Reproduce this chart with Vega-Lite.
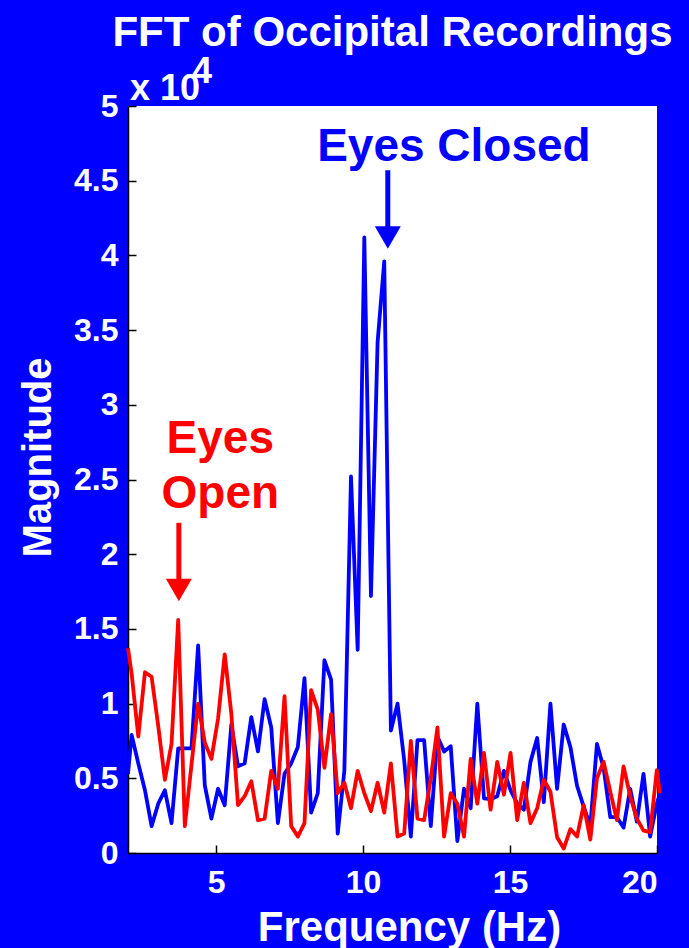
{
  "$schema": "https://vega.github.io/schema/vega-lite/v6.json",
  "width": 529,
  "height": 747,
  "autosize": "none",
  "padding": {"left": 128, "top": 106, "right": 32, "bottom": 95},
  "background": "#0000ff",
  "config": {
    "view": {"fill": "white", "stroke": null},
    "font": "Liberation Sans",
    "axis": {
      "domainColor": "black", "domainWidth": 1.5, "tickColor": "black", "tickWidth": 1.5,
      "tickSize": -8, "labelPadding": 18, "grid": false,
      "labelColor": "white", "labelFont": "Liberation Sans", "labelFontWeight": "bold", "labelFontSize": 32,
      "titleColor": "white", "titleFont": "Liberation Sans", "titleFontWeight": "bold", "titleFontSize": 40
    }
  },
  "title": {
    "text": "FFT of Occipital Recordings", "color": "white", "fontSize": 42, "font": "Liberation Sans",
    "fontWeight": "bold", "anchor": "middle", "frame": "group", "baseline": "alphabetic", "offset": -34
  },
  "datasets": {
    "spectrum": [
      {"f": 2.0, "closed": 0.53, "open": 1.37},
      {"f": 2.124, "closed": 0.79, "open": 1.2},
      {"f": 2.35, "closed": 0.6, "open": 0.78},
      {"f": 2.577, "closed": 0.42, "open": 1.21},
      {"f": 2.803, "closed": 0.18, "open": 1.18},
      {"f": 3.029, "closed": 0.33, "open": 0.85},
      {"f": 3.255, "closed": 0.42, "open": 0.49},
      {"f": 3.481, "closed": 0.2, "open": 0.73},
      {"f": 3.708, "closed": 0.7, "open": 1.56},
      {"f": 3.934, "closed": 0.7, "open": 0.18},
      {"f": 4.16, "closed": 0.7, "open": 0.59},
      {"f": 4.386, "closed": 1.39, "open": 1.0},
      {"f": 4.612, "closed": 0.455, "open": 0.74},
      {"f": 4.838, "closed": 0.23, "open": 0.63},
      {"f": 5.065, "closed": 0.43, "open": 0.9},
      {"f": 5.291, "closed": 0.32, "open": 1.33},
      {"f": 5.517, "closed": 0.86, "open": 0.93},
      {"f": 5.743, "closed": 0.58, "open": 0.32},
      {"f": 5.969, "closed": 0.6, "open": 0.38},
      {"f": 6.196, "closed": 0.91, "open": 0.48},
      {"f": 6.422, "closed": 0.68, "open": 0.22},
      {"f": 6.648, "closed": 1.03, "open": 0.23},
      {"f": 6.874, "closed": 0.84, "open": 0.55},
      {"f": 7.1, "closed": 0.2, "open": 0.43},
      {"f": 7.326, "closed": 0.53, "open": 1.05},
      {"f": 7.553, "closed": 0.6, "open": 0.18},
      {"f": 7.779, "closed": 0.71, "open": 0.11},
      {"f": 8.005, "closed": 1.17, "open": 0.2},
      {"f": 8.231, "closed": 0.27, "open": 1.09},
      {"f": 8.457, "closed": 0.4, "open": 0.96},
      {"f": 8.684, "closed": 1.29, "open": 0.57},
      {"f": 8.91, "closed": 1.16, "open": 0.93},
      {"f": 9.136, "closed": 0.13, "open": 0.4},
      {"f": 9.362, "closed": 0.55, "open": 0.47},
      {"f": 9.588, "closed": 2.52, "open": 0.3},
      {"f": 9.815, "closed": 1.36, "open": 0.55},
      {"f": 10.041, "closed": 4.12, "open": 0.4},
      {"f": 10.267, "closed": 1.72, "open": 0.28},
      {"f": 10.493, "closed": 3.42, "open": 0.47},
      {"f": 10.719, "closed": 3.96, "open": 0.27},
      {"f": 10.945, "closed": 0.82, "open": 0.6},
      {"f": 11.172, "closed": 1.0, "open": 0.11},
      {"f": 11.398, "closed": 0.62, "open": 0.13},
      {"f": 11.624, "closed": 0.11, "open": 0.75},
      {"f": 11.85, "closed": 0.755, "open": 0.23},
      {"f": 12.076, "closed": 0.755, "open": 0.22},
      {"f": 12.303, "closed": 0.18, "open": 0.5},
      {"f": 12.529, "closed": 0.78, "open": 0.84},
      {"f": 12.755, "closed": 0.68, "open": 0.11},
      {"f": 12.981, "closed": 0.715, "open": 0.4},
      {"f": 13.207, "closed": 0.08, "open": 0.33},
      {"f": 13.434, "closed": 0.43, "open": 0.11},
      {"f": 13.66, "closed": 0.3, "open": 0.63},
      {"f": 13.886, "closed": 1.0, "open": 0.33},
      {"f": 14.112, "closed": 0.365, "open": 0.67},
      {"f": 14.338, "closed": 0.36, "open": 0.29},
      {"f": 14.564, "closed": 0.38, "open": 0.61},
      {"f": 14.791, "closed": 0.55, "open": 0.39},
      {"f": 15.017, "closed": 0.42, "open": 0.67},
      {"f": 15.243, "closed": 0.33, "open": 0.22},
      {"f": 15.469, "closed": 0.29, "open": 0.47},
      {"f": 15.695, "closed": 0.61, "open": 0.2},
      {"f": 15.922, "closed": 0.77, "open": 0.3},
      {"f": 16.148, "closed": 0.34, "open": 0.49},
      {"f": 16.374, "closed": 1.0, "open": 0.41},
      {"f": 16.6, "closed": 0.43, "open": 0.105},
      {"f": 16.826, "closed": 0.86, "open": 0.03},
      {"f": 17.053, "closed": 0.71, "open": 0.16},
      {"f": 17.279, "closed": 0.45, "open": 0.11},
      {"f": 17.505, "closed": 0.31, "open": 0.32},
      {"f": 17.731, "closed": 0.18, "open": 0.09},
      {"f": 17.957, "closed": 0.73, "open": 0.5},
      {"f": 18.183, "closed": 0.57, "open": 0.61},
      {"f": 18.41, "closed": 0.24, "open": 0.41},
      {"f": 18.636, "closed": 0.24, "open": 0.22},
      {"f": 18.862, "closed": 0.17, "open": 0.58},
      {"f": 19.088, "closed": 0.43, "open": 0.38},
      {"f": 19.314, "closed": 0.21, "open": 0.23},
      {"f": 19.541, "closed": 0.53, "open": 0.15},
      {"f": 19.767, "closed": 0.11, "open": 0.14},
      {"f": 19.993, "closed": 0.33, "open": 0.555},
      {"f": 20.1, "closed": 0.4, "open": 0.4}
    ]
  },
  "layer": [
    {
      "data": {"name": "spectrum"},
      "mark": {"type": "line", "color": "#0000ff", "strokeWidth": 3.8, "strokeJoin": "round"},
      "encoding": {
        "x": {"field": "f", "type": "quantitative", "scale": {"domain": [2, 20], "nice": false, "zero": false},
              "axis": {"values": [5, 10, 15, 20], "format": "d", "labelPadding": 22, "title": "Frequency (Hz)", "titleFontSize": 42, "titleX": 281, "titleY": 87, "titleBaseline": "alphabetic"}},
        "y": {"field": "closed", "type": "quantitative", "scale": {"domain": [0, 5], "nice": false},
              "axis": {"values": [0, 0.5, 1, 1.5, 2, 2.5, 3, 3.5, 4, 4.5, 5], "format": "~g", "title": "Magnitude", "titleX": -78, "titleY": 351, "titleAngle": -90, "titleAlign": "center", "titleBaseline": "alphabetic"}}
      }
    },
    {
      "data": {"name": "spectrum"},
      "mark": {"type": "line", "color": "#ff0000", "strokeWidth": 3.8, "strokeJoin": "round"},
      "encoding": {
        "x": {"field": "f", "type": "quantitative"},
        "y": {"field": "open", "type": "quantitative"}
      }
    },
    {
      "data": {"values": [{"f": 10.84, "top": 4.57, "bottom": 4.17}]},
      "mark": {"type": "rule", "color": "#0000ff", "strokeWidth": 5},
      "encoding": {"x": {"field": "f", "type": "quantitative"}, "y": {"field": "top", "type": "quantitative"}, "y2": {"field": "bottom"}}
    },
    {
      "data": {"values": [{"f": 10.84, "tip": 4.12}]},
      "mark": {"type": "point", "shape": "triangle-down", "filled": true, "color": "#0000ff", "size": 676, "opacity": 1},
      "encoding": {"x": {"field": "f", "type": "quantitative"}, "y": {"field": "tip", "type": "quantitative"}}
    },
    {
      "data": {"values": [{"f": 3.73, "top": 2.21, "bottom": 1.83}]},
      "mark": {"type": "rule", "color": "#ff0000", "strokeWidth": 5},
      "encoding": {"x": {"field": "f", "type": "quantitative"}, "y": {"field": "top", "type": "quantitative"}, "y2": {"field": "bottom"}}
    },
    {
      "data": {"values": [{"f": 3.73, "tip": 1.76}]},
      "mark": {"type": "point", "shape": "triangle-down", "filled": true, "color": "#ff0000", "size": 676, "opacity": 1},
      "encoding": {"x": {"field": "f", "type": "quantitative"}, "y": {"field": "tip", "type": "quantitative"}}
    },
    {
      "data": {"values": [{"label": "Eyes Closed", "f": 13.09, "v": 4.63}]},
      "mark": {"type": "text", "color": "#0000ff", "font": "Liberation Sans", "fontWeight": "bold", "fontSize": 46, "align": "center", "baseline": "alphabetic"},
      "encoding": {"x": {"field": "f", "type": "quantitative"}, "y": {"field": "v", "type": "quantitative"}, "text": {"field": "label"}}
    },
    {
      "data": {"values": [{"label": "Eyes", "f": 5.14, "v": 2.68}, {"label": "Open", "f": 5.14, "v": 2.31}]},
      "mark": {"type": "text", "color": "#ff0000", "font": "Liberation Sans", "fontWeight": "bold", "fontSize": 46, "align": "center", "baseline": "alphabetic"},
      "encoding": {"x": {"field": "f", "type": "quantitative"}, "y": {"field": "v", "type": "quantitative"}, "text": {"field": "label"}}
    },
    {
      "data": {"values": [{"label": "x 10", "f": 2.07, "v": 5.04}, {"label": "4", "f": 4.18, "v": 5.154}]},
      "mark": {"type": "text", "color": "white", "font": "Liberation Sans", "fontWeight": "bold", "fontSize": 36, "align": "left", "baseline": "alphabetic"},
      "encoding": {"x": {"field": "f", "type": "quantitative"}, "y": {"field": "v", "type": "quantitative"}, "text": {"field": "label"}}
    }
  ]
}
